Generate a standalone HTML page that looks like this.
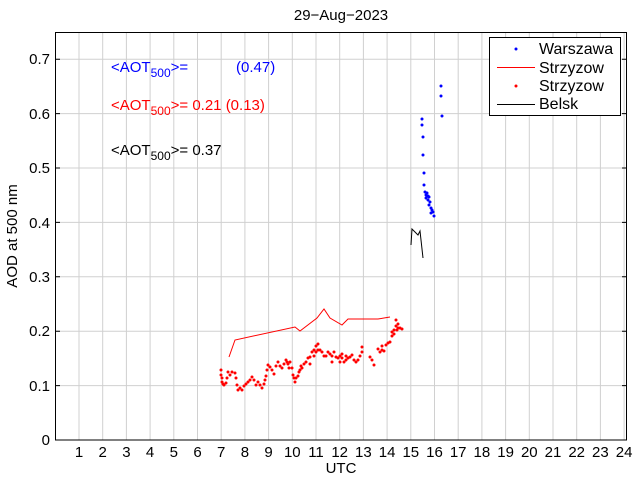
<!DOCTYPE html>
<html><head><meta charset="utf-8"><style>body{margin:0;background:#fff}svg{display:block;font-family:"Liberation Sans",sans-serif}</style></head><body>
<svg width="640" height="480" xmlns="http://www.w3.org/2000/svg">
<rect width="640" height="480" fill="#fff"/>
<g stroke="#d0d0d0" stroke-width="1">
<path d="M79 32V440M102.7 32V440M126.4 32V440M150.1 32V440M173.8 32V440M197.5 32V440M221.2 32V440M244.9 32V440M268.6 32V440M292.3 32V440M316 32V440M339.7 32V440M363.4 32V440M387.1 32V440M410.8 32V440M434.5 32V440M458.2 32V440M481.9 32V440M505.6 32V440M529.3 32V440M553 32V440M576.7 32V440M600.4 32V440M624.1 32V440"/>
<path d="M55 385.6H627M55 331.2H627M55 276.8H627M55 222.4H627M55 168H627M55 113.6H627M55 59.2H627"/>
</g>
<rect x="55.5" y="32.5" width="571" height="407.5" fill="none" stroke="#000"/>
<g stroke="#000"><path d="M55 385.6h5M55 331.2h5M55 276.8h5M55 222.4h5M55 168h5M55 113.6h5M55 59.2h5M622 385.6h5M622 331.2h5M622 276.8h5M622 222.4h5M622 168h5M622 113.6h5M622 59.2h5"/></g>
<g font-size="15" text-anchor="end">
<text x="50" y="445">0</text><text x="50" y="391">0.1</text><text x="50" y="336">0.2</text><text x="50" y="282">0.3</text><text x="50" y="228">0.4</text><text x="50" y="173">0.5</text><text x="50" y="119">0.6</text><text x="50" y="64">0.7</text>
</g>
<g font-size="15" text-anchor="middle">
<text x="79" y="457">1</text><text x="102.7" y="457">2</text><text x="126.4" y="457">3</text><text x="150.1" y="457">4</text><text x="173.8" y="457">5</text><text x="197.5" y="457">6</text><text x="221.2" y="457">7</text><text x="244.9" y="457">8</text><text x="268.6" y="457">9</text><text x="292.3" y="457">10</text><text x="316" y="457">11</text><text x="339.7" y="457">12</text><text x="363.4" y="457">13</text><text x="387.1" y="457">14</text><text x="410.8" y="457">15</text><text x="434.5" y="457">16</text><text x="458.2" y="457">17</text><text x="481.9" y="457">18</text><text x="505.6" y="457">19</text><text x="529.3" y="457">20</text><text x="553" y="457">21</text><text x="576.7" y="457">22</text><text x="600.4" y="457">23</text><text x="624.1" y="457">24</text>
<text x="341" y="473">UTC</text>
<text x="341" y="20">29−Aug−2023</text>
<text transform="translate(17,236) rotate(-90)">AOD at 500 nm</text>
</g>
<g font-size="15">
<text x="111" y="72" fill="#0000ff">&lt;AOT<tspan font-size="12" dy="5">500</tspan><tspan dy="-5">&gt;=</tspan><tspan x="236">(0.47)</tspan></text>
<text x="111" y="110" fill="#ff0000">&lt;AOT<tspan font-size="12" dy="5">500</tspan><tspan dy="-5">&gt;= 0.21 (0.13)</tspan></text>
<text x="111" y="155" fill="#000">&lt;AOT<tspan font-size="12" dy="5">500</tspan><tspan dy="-5">&gt;= 0.37</tspan></text>
</g>
<polyline fill="none" stroke="#ff0000" stroke-width="1" points="229,357 235,340 295,327 300,331 317,318 324,309 330,318 342,325 348,319 378,319 390,317"/>
<polyline fill="none" stroke="#000" stroke-width="1" points="411,245 412,229 418,235 420,231 423,258"/>
<path fill="none" stroke="#ff0000" stroke-width="3" stroke-linecap="round" d="M221 370h0M221 375h0M222 378h0M222 382h0M223 384h0M224 385h0M226 383h0M227 378h0M228 372h0M230 375h0M232 372h0M235 373h0M236 378h0M237 385h0M238 390h0M240 388h0M242 390h0M244 386h0M246 384h0M248 382h0M250 380h0M252 377h0M254 380h0M256 385h0M258 382h0M260 385h0M262 388h0M264 384h0M265 380h0M266 376h0M267 370h0M268 365h0M270 367h0M272 370h0M274 374h0M276 366h0M278 362h0M280 366h0M282 368h0M284 364h0M286 360h0M287 362h0M288 364h0M289 368h0M290 362h0M292 368h0M293 375h0M294 378h0M295 382h0M296 378h0M298 376h0M299 372h0M300 370h0M301 366h0M302 368h0M304 364h0M306 362h0M308 358h0M310 357h0M310 364h0M312 352h0M314 350h0M314 356h0M316 346h0M316 352h0M318 344h0M318 350h0M320 350h0M322 352h0M324 356h0M326 356h0M328 352h0M330 354h0M332 356h0M332 362h0M334 352h0M336 357h0M338 358h0M340 356h0M340 362h0M342 354h0M342 358h0M344 362h0M346 356h0M346 360h0M348 358h0M350 357h0M352 355h0M354 360h0M356 362h0M358 360h0M360 356h0M362 347h0M362 352h0M370 357h0M372 360h0M374 365h0M378 349h0M380 352h0M382 350h0M382 346h0M384 351h0M386 345h0M388 343h0M390 342h0M392 336h0M392 332h0M394 330h0M394 334h0M396 326h0M396 320h0M397 330h0M398 324h0M398 328h0M400 328h0M402 329h0"/>
<path fill="none" stroke="#0000ff" stroke-width="3" stroke-linecap="round" d="M422 119h0M422 125h0M423 137h0M423 155h0M424 173h0M424 185h0M425 192h0M426 195h0M427 193h0M428 196h0M426 198h0M429 197h0M428 200h0M430 202h0M429 205h0M431 208h0M432 210h0M431 213h0M433 212h0M434 216h0M441 86h0M441 96h0M442 116h0"/>
<rect x="489.5" y="37.5" width="131" height="78" fill="#fff" stroke="#000"/>
<g font-size="16"><text x="539" y="54">Warszawa</text><text x="539" y="73">Strzyzow</text><text x="539" y="91">Strzyzow</text><text x="539" y="109">Belsk</text></g>
<circle cx="516" cy="49" r="1.5" fill="#0000ff"/>
<path d="M497 67.5h38" stroke="#ff0000"/>
<circle cx="516" cy="86" r="1.5" fill="#ff0000"/>
<path d="M497 104.5h38" stroke="#000"/>
</svg>
</body></html>
